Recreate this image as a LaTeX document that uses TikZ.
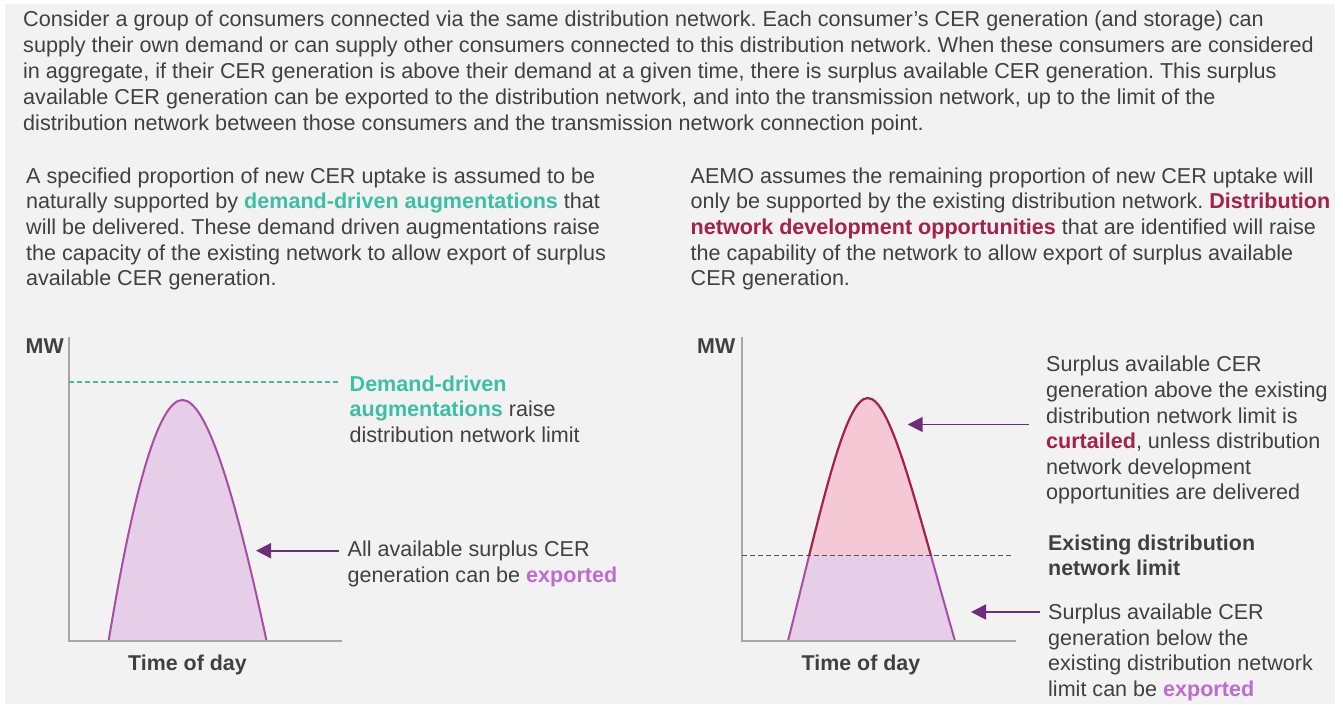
\documentclass[tikz,border=0pt]{standalone}
\usepackage{fontspec}
\setmainfont{Liberation Sans}
\usetikzlibrary{arrows.meta}
\definecolor{bgc}{HTML}{F2F2F2}
\definecolor{txt}{HTML}{404040}
\definecolor{ddteal}{HTML}{3DBFA5}
\definecolor{crim}{HTML}{A3214A}
\definecolor{expurple}{HTML}{BF6BD2}
\definecolor{purfill}{HTML}{E6CDE8}
\definecolor{purline}{HTML}{A64DA5}
\definecolor{pinkfill}{HTML}{F4C8D4}
\definecolor{redline}{HTML}{A3214A}
\definecolor{arrowpurple}{HTML}{6E2C7C}
\definecolor{axisgray}{HTML}{A6A6A6}
\definecolor{limitgray}{HTML}{505050}
\newcommand{\fstrut}{\rule{0pt}{17pt}}
\newcommand{\tlhi}[1]{\textcolor{ddteal}{\textbf{#1}}}
\newcommand{\crhi}[1]{\textcolor{crim}{\textbf{#1}}}
\newcommand{\exhi}[1]{\textcolor{expurple}{\textbf{#1}}}
\frenchspacing
\tikzset{
  para/.style={anchor=north west, inner sep=0pt, align=left, text=txt,
    font=\fontsize{21.55}{25.6}\selectfont},
  boldlbl/.style={inner sep=0pt, text=txt, font=\fontsize{21.4}{25.6}\selectfont\bfseries},
  axisline/.style={draw=axisgray, line width=1.5pt},
  callout/.style={draw=arrowpurple, line width=1.8pt, -{Triangle[length=15pt,width=15pt]}},
}
\begin{document}
\begin{tikzpicture}[x=1pt,y=-1pt]
\useasboundingbox (0,0) rectangle (1343,704);
\fill[bgc] (5,4) rectangle (1335,704);

% ---------- paragraphs ----------
\node[para, font=\fontsize{21.6}{26}\selectfont] (intro) at (23,9.5) {\fstrut Consider a group of consumers connected via the same distribution network. Each consumer’s CER generation (and storage) can\\
supply their own demand or can supply other consumers connected to this distribution network. When these consumers are considered\\
in aggregate, if their CER generation is above their demand at a given time, there is surplus available CER generation. This surplus\\
available CER generation can be exported to the distribution network, and into the transmission network, up to the limit of the\\
distribution network between those consumers and the transmission network connection point.};

\node[para] (leftpara) at (26,166) {\fstrut A specified proportion of new CER uptake is assumed to be\\
naturally supported by \tlhi{demand-driven augmentations} that\\
will be delivered. These demand driven augmentations raise\\
the capacity of the existing network to allow export of surplus\\
available CER generation.};

\node[para] (rightpara) at (690.5,166) {\fstrut AEMO assumes the remaining proportion of new CER uptake will\\
only be supported by the existing distribution network. \crhi{Distribution}\\
\crhi{network development opportunities} that are identified will raise\\
the capability of the network to allow export of surplus available\\
CER generation.};

% ---------- left chart ----------
\coordinate (Ltop) at (69,337);
\coordinate (Lorig) at (69,641);
\coordinate (Lend) at (342,641);
\fill[purfill] (108.6,641) .. controls (135,480) and (160,400) .. (182.4,400)
  .. controls (205,400) and (232,480) .. (266.6,641) -- cycle;
\draw[purline, line width=2pt] (108.6,641) .. controls (135,480) and (160,400) .. (182.4,400)
  .. controls (205,400) and (232,480) .. (266.6,641);
\draw[axisline] (Ltop) -- (Lorig) -- (Lend);
\coordinate (Ldashs) at (69,382);
\coordinate (Ldashe) at (338,382);
\draw[ddteal, line width=1.3pt, dash pattern=on 5pt off 3pt] (Ldashs) -- (Ldashe);

\node[boldlbl, anchor=base west] (mwL) at (25.5,353) {MW};
\node[boldlbl, anchor=base] (timeL) at (187.5,670) {Time of day};

\node[para] (ddlabel) at (349.5,374) {\fstrut\tlhi{Demand-driven}\\
\tlhi{augmentations} raise\\
distribution network limit};

\node[para] (exportL) at (347.5,539.7) {\fstrut All available surplus CER\\
generation can be \exhi{exported}};

\coordinate (LarrS) at (338.7,550.7);
\coordinate (LarrT) at (256,550.7);
\draw[callout] (LarrS) -- (LarrT);

% ---------- right chart ----------
\coordinate (Rtop) at (742,337);
\coordinate (Rorig) at (742,641);
\coordinate (Rend) at (1016,641);
\fill[pinkfill] (788,641) .. controls (822,505) and (845,398) .. (867.7,398)
  .. controls (891,398) and (916,505) .. (955,641) -- cycle;
\begin{scope}
  \clip (742,555.7) rectangle (1016,641);
  \fill[purfill] (788,641) .. controls (822,505) and (845,398) .. (867.7,398)
    .. controls (891,398) and (916,505) .. (955,641) -- cycle;
  \draw[purline, line width=2pt] (788,641) .. controls (822,505) and (845,398) .. (867.7,398)
    .. controls (891,398) and (916,505) .. (955,641);
\end{scope}
\begin{scope}
  \clip (742,330) rectangle (1016,555.7);
  \draw[redline, line width=2.2pt] (788,641) .. controls (822,505) and (845,398) .. (867.7,398)
    .. controls (891,398) and (916,505) .. (955,641);
\end{scope}
\draw[axisline] (Rtop) -- (Rorig) -- (Rend);
\coordinate (Rdashs) at (742,555.7);
\coordinate (Rdashe) at (1012,555.7);
\draw[limitgray, line width=1.2pt, dash pattern=on 5pt off 3pt] (Rdashs) -- (Rdashe);

\node[boldlbl, anchor=base west] (mwR) at (697,353) {MW};
\node[boldlbl, anchor=base] (timeR) at (861,670) {Time of day};

\node[para] (curtR) at (1046,354.7) {\fstrut Surplus available CER\\
generation above the existing\\
distribution network limit is\\
\crhi{curtailed}, unless distribution\\
network development\\
opportunities are delivered};

\node[para, font=\fontsize{21.4}{25.6}\selectfont\bfseries] (limitR) at (1048,533) {\fstrut Existing distribution\\
network limit};

\node[para] (exportR) at (1048,602.3) {\fstrut Surplus available CER\\
generation below the\\
existing distribution network\\
limit can be \exhi{exported}};

\coordinate (RarrS) at (1029,424.5);
\coordinate (RarrT) at (907.7,424.5);
\draw[callout] (RarrS) -- (RarrT);
\coordinate (R2arrS) at (1040,612);
\coordinate (R2arrT) at (971,612);
\draw[callout] (R2arrS) -- (R2arrT);
\end{tikzpicture}
\end{document}
